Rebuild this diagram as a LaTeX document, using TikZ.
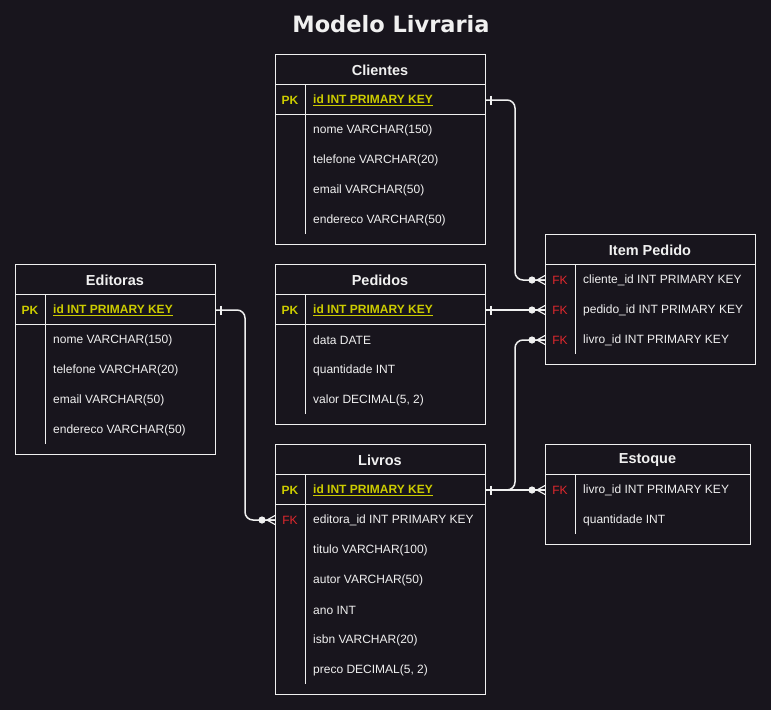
\documentclass[tikz,border=0pt]{standalone}
\usepackage{fontspec}
\setmainfont{Liberation Sans}
\newfontfamily\titulofont{DejaVu Sans}
\usetikzlibrary{calc}
\definecolor{fundo}{HTML}{18151D}
\definecolor{linha}{HTML}{F0F0F0}
\definecolor{chavepk}{HTML}{CCCC00}
\definecolor{chavefk}{HTML}{E0282D}
\begin{document}
\begin{tikzpicture}[x=1pt, y=-1pt,
	tabela/.style={draw=linha, line width=1pt, anchor=north west, inner sep=0pt},
	cabecalho/.style={text=linha, yshift=-1pt, font=\fontsize{14.5}{17}\selectfont\bfseries},
	campo/.style={text=linha, anchor=west, inner sep=0pt, yshift=-1pt, font=\fontsize{12}{14}\selectfont},
	campopk/.style={campo, text=chavepk, font=\fontsize{12}{14}\selectfont\bfseries},
	pk/.style={text=chavepk, inner sep=0pt, yshift=-1pt, font=\fontsize{12}{14}\selectfont\bfseries},
	fk/.style={text=chavefk, inner sep=0pt, yshift=-1pt, font=\fontsize{12}{14}\selectfont},
	divisa/.style={draw=linha, line width=1pt},
	conector/.style={draw=linha, line width=1.5pt, rounded corners=8pt},
	um/.pic={\draw[linha, line width=1.3pt] (5,-4.5) -- (5,4.5);},
	zeromuitos/.pic={
		\draw[linha, line width=1.2pt] (0,-4.5) -- (-8,0) -- (0,4.5) (0,0) -- (-8,0);
		\fill[linha] (-13,0) circle (3.6);}]
	\fill[fundo] (0,0) rectangle (771,710);
	\useasboundingbox (0,0) rectangle (771,710);
	\node[text=linha, font=\titulofont\fontsize{22.5}{26}\selectfont\bfseries] (titulo) at (391,24) {Modelo Livraria};

	\node[tabela, minimum width=210pt, minimum height=190pt] (cli) at (275,54) {};
	\node[cabecalho] (cli-tit) at (380,69) {Clientes};
	\draw[divisa] (275,84) -- (485,84) (275,114) -- (485,114) (305,84) -- (305,234);
	\node[pk] (cli-pk) at (290,99) {PK};
	\node[campopk] (cli-id) at (313,99) {\underline{id INT PRIMARY KEY}};
	\foreach \t [count=\i] in {nome VARCHAR(150), telefone VARCHAR(20), email VARCHAR(50), endereco VARCHAR(50)}
		\node[campo] (cli-\i) at (313,99+30*\i) {\t};

	\node[tabela, minimum width=200pt, minimum height=190pt] (edi) at (15,264) {};
	\node[cabecalho] (edi-tit) at (115,279) {Editoras};
	\draw[divisa] (15,294) -- (215,294) (15,324) -- (215,324) (45,294) -- (45,444);
	\node[pk] (edi-pk) at (30,309) {PK};
	\node[campopk] (edi-id) at (53,309) {\underline{id INT PRIMARY KEY}};
	\foreach \t [count=\i] in {nome VARCHAR(150), telefone VARCHAR(20), email VARCHAR(50), endereco VARCHAR(50)}
		\node[campo] (edi-\i) at (53,309+30*\i) {\t};

	\node[tabela, minimum width=210pt, minimum height=160pt] (ped) at (275,264) {};
	\node[cabecalho] (ped-tit) at (380,279) {Pedidos};
	\draw[divisa] (275,294) -- (485,294) (275,324) -- (485,324) (305,294) -- (305,414);
	\node[pk] (ped-pk) at (290,309) {PK};
	\node[campopk] (ped-id) at (313,309) {\underline{id INT PRIMARY KEY}};
	\foreach \t [count=\i] in {data DATE, quantidade INT, {valor DECIMAL(5, 2)}}
		\node[campo] (ped-\i) at (313,309+30*\i) {\t};

	\node[tabela, minimum width=210pt, minimum height=250pt] (liv) at (275,444) {};
	\node[cabecalho] (liv-tit) at (380,459) {Livros};
	\draw[divisa] (275,474) -- (485,474) (275,504) -- (485,504) (305,474) -- (305,684);
	\node[pk] (liv-pk) at (290,489) {PK};
	\node[campopk] (liv-id) at (313,489) {\underline{id INT PRIMARY KEY}};
	\node[fk] (liv-fkc) at (290,519) {FK};
	\node[campo] (liv-fk) at (313,519) {editora\_id INT PRIMARY KEY};
	\foreach \t [count=\i] in {titulo VARCHAR(100), autor VARCHAR(50), ano INT, isbn VARCHAR(20), {preco DECIMAL(5, 2)}}
		\node[campo] (liv-\i) at (313,519+30*\i) {\t};

	\node[tabela, minimum width=210pt, minimum height=130pt] (ip) at (545,234) {};
	\node[cabecalho] (ip-tit) at (650,249) {Item Pedido};
	\draw[divisa] (545,264) -- (755,264) (575,264) -- (575,354);
	\node[fk] (ip-fk1) at (560,279) {FK};
	\node[campo] (ip-cli) at (583,279) {cliente\_id INT PRIMARY KEY};
	\node[fk] (ip-fk2) at (560,309) {FK};
	\node[campo] (ip-ped) at (583,309) {pedido\_id INT PRIMARY KEY};
	\node[fk] (ip-fk3) at (560,339) {FK};
	\node[campo] (ip-liv) at (583,339) {livro\_id INT PRIMARY KEY};

	\node[tabela, minimum width=205pt, minimum height=100pt] (est) at (545,444) {};
	\node[cabecalho] (est-tit) at (647.5,459) {Estoque};
	\draw[divisa] (545,474) -- (750,474) (575,474) -- (575,534);
	\node[fk] (est-fk) at (560,489) {FK};
	\node[campo] (est-liv) at (583,489) {livro\_id INT PRIMARY KEY};
	\node[campo] (est-1) at (583,519) {quantidade INT};

	\draw[conector] (cli-id -| cli.east) -| ($(ip-cli -| ip.west)+(-30,0)$) -- (ip-cli -| ip.west);
	\draw[conector] (ped-id -| ped.east) -- (ip-ped -| ip.west);
	\draw[conector] (liv-id -| liv.east) -| ($(ip-liv -| ip.west)+(-30,0)$) -- (ip-liv -| ip.west);
	\draw[conector] (liv-id -| liv.east) -- (est-liv -| est.west);
	\draw[conector] (edi-id -| edi.east) -| ($(liv-fk -| liv.west)+(-30,0)$) -- (liv-fk -| liv.west);
	\pic at (cli-id -| cli.east) {um};
	\pic at (ped-id -| ped.east) {um};
	\pic at (liv-id -| liv.east) {um};
	\pic at (edi-id -| edi.east) {um};
	\pic at (ip-cli -| ip.west) {zeromuitos};
	\pic at (ip-ped -| ip.west) {zeromuitos};
	\pic at (ip-liv -| ip.west) {zeromuitos};
	\pic at (est-liv -| est.west) {zeromuitos};
	\pic at (liv-fk -| liv.west) {zeromuitos};
\end{tikzpicture}
\end{document}
